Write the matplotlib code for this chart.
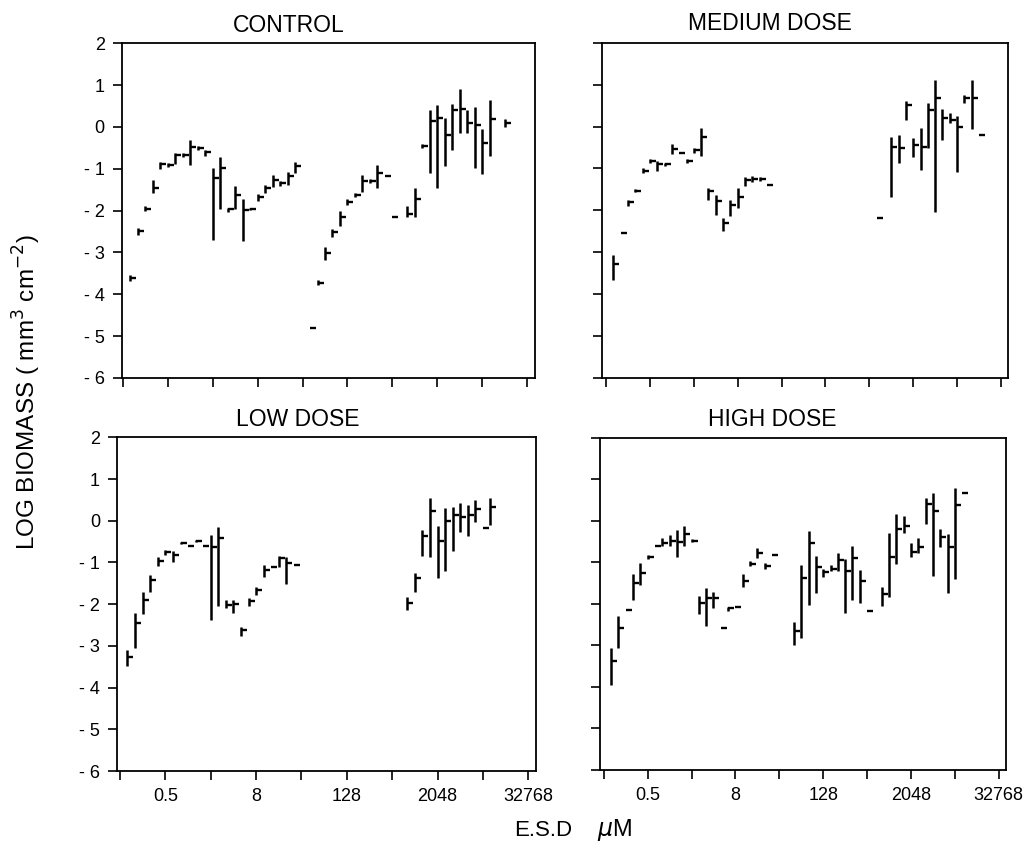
import matplotlib
matplotlib.use("Agg")
import matplotlib.pyplot as plt
from matplotlib.markers import TICKRIGHT

plt.rcParams['font.family'] = ['Liberation Sans', 'DejaVu Sans']

# ESD size classes (um), 1/3 log2 steps, index 0 -> 2^(-8/3)
size_classes = [0.157, 0.198, 0.25, 0.315, 0.397, 0.5, 0.63, 0.794, 1.0, 1.26,
                1.587, 2.0, 2.52, 3.175, 4.0, 5.04, 6.35, 8.0, 10.08, 12.7,
                16.0, 20.16, 25.4, 32.0, 40.3, 50.8, 64.0, 80.6, 101.6, 128.0,
                161.3, 203.2, 256.0, 322.5, 406.4, 512.0, 645.0, 812.7, 1024.0, 1290.0,
                1625.0, 2048.0, 2580.0, 3251.0, 4096.0, 5161.0, 6502.0, 8192.0, 10321.0, 13004.0,
                16384.0]

# ---------------- CONTROL ----------------
control_cls = [0, 1, 2, 3, 4, 5, 6, 7, 8, 9, 10, 11, 12, 13, 14, 15, 16, 17, 18, 19, 20, 21, 22,
               24, 25, 26, 27, 28, 29, 30, 31, 32, 33, 34, 35,
               37, 38, 39, 40, 41, 42, 43, 44, 45, 46, 47, 48, 50]
control_mean = [-3.62, -2.49, -1.95, -1.45, -0.89, -0.90, -0.67, -0.67, -0.47, -0.50, -0.59, -1.23, -0.98,
                -1.97, -1.63, -1.99, -1.96, -1.67, -1.47, -1.27, -1.35, -1.18, -0.93,
                -4.80, -3.72, -3.02, -2.51, -2.15, -1.79, -1.63, -1.29, -1.29, -1.10, -1.16, -2.15,
                -2.07, -1.71, -0.45, 0.15, 0.21, -0.19, 0.40, 0.42, 0.10, 0.05, -0.39, 0.19, 0.10]
control_low = [-3.68, -2.58, -2.01, -1.59, -1.00, -0.95, -0.89, -0.72, -0.91, -0.55, -0.70, -2.69, -1.95,
               -2.04, -1.95, -2.72, -1.98, -1.76, -1.57, -1.43, -1.40, -1.39, -1.10,
               -4.80, -3.78, -3.18, -2.63, -2.37, -1.87, -1.67, -1.55, -1.35, -1.47, -1.16, -2.15,
               -2.16, -2.16, -0.50, -1.11, -1.47, -0.94, -0.54, -0.14, -0.14, -0.99, -1.13, -0.70, 0.00]
control_high = [-3.55, -2.42, -1.90, -1.27, -0.83, -0.85, -0.62, -0.62, -0.30, -0.46, -0.55, -0.99, -0.71,
                -1.93, -1.41, -1.73, -1.94, -1.60, -1.39, -1.15, -1.30, -1.07, -0.83,
                -4.80, -3.66, -2.87, -2.43, -2.00, -1.73, -1.59, -1.15, -1.25, -0.91, -1.16, -2.15,
                -1.89, -1.47, -0.40, 0.40, 0.52, 0.21, 0.56, 0.91, 0.40, 0.48, -0.06, 0.64, 0.20]

# ---------------- MEDIUM DOSE ----------------
medium_cls = [0, 1, 2, 3, 4, 5, 6, 7, 8, 9, 10, 11, 12, 13, 14, 15, 16, 17, 18, 19, 20, 21,
              36, 38, 39, 40, 41, 42, 43, 44, 45, 46, 47, 48, 49, 50]
medium_mean = [-3.28, -2.54, -1.81, -1.53, -1.06, -0.83, -0.90, -0.89, -0.53, -0.62, -0.82, -0.56, -0.26,
               -1.55, -1.77, -2.30, -1.88, -1.67, -1.27, -1.25, -1.25, -1.39,
               -2.19, -0.48, -0.52, 0.51, -0.44, -0.48, 0.39, 0.67, 0.20, 0.16, -0.02, 0.67, 0.67, -0.20]
medium_low = [-3.67, -2.54, -1.90, -1.57, -1.12, -0.88, -1.05, -0.93, -0.65, -0.62, -0.86, -0.63, -0.70,
              -1.76, -2.10, -2.50, -2.13, -1.94, -1.43, -1.32, -1.30, -1.39,
              -2.19, -1.68, -0.88, 0.16, -0.72, -1.04, -0.52, -2.03, -0.32, 0.08, -1.08, 0.55, -0.07, -0.20]
medium_high = [-3.06, -2.54, -1.75, -1.50, -1.00, -0.78, -0.82, -0.86, -0.41, -0.62, -0.77, -0.52, -0.04,
               -1.47, -1.63, -2.18, -1.75, -1.47, -1.21, -1.19, -1.20, -1.39,
               -2.19, -0.24, -0.20, 0.62, -0.28, -0.04, 0.55, 1.11, 0.43, 0.33, 0.25, 0.75, 1.11, -0.20]

# ---------------- LOW DOSE ----------------
low_cls = [0, 1, 2, 3, 4, 5, 6, 7, 8, 9, 10, 11, 12, 13, 14, 15, 16, 17, 18, 19, 20, 21, 22,
           37, 38, 39, 40, 41, 42, 43, 44, 45, 46, 47, 48]
low_mean = [-3.27, -2.46, -1.89, -1.42, -0.97, -0.74, -0.81, -0.53, -0.60, -0.49, -0.60, -0.64, -0.41,
            -2.01, -2.00, -2.62, -1.92, -1.66, -1.17, -1.12, -0.90, -1.02, -1.05,
            -1.98, -1.38, -0.36, 0.23, -0.49, 0.00, 0.14, 0.08, 0.14, 0.27, -0.18, 0.32]
low_low = [-3.49, -3.06, -2.24, -1.70, -1.09, -0.82, -1.00, -0.56, -0.60, -0.52, -0.60, -2.38, -2.05,
           -2.10, -2.22, -2.77, -2.05, -1.78, -1.34, -1.12, -1.12, -1.52, -1.05,
           -2.14, -1.70, -0.85, -0.86, -1.38, -1.20, -0.73, -0.26, -0.37, -0.02, -0.18, -0.10]
low_high = [-3.10, -2.22, -1.70, -1.30, -0.88, -0.69, -0.72, -0.50, -0.60, -0.46, -0.60, -0.34, -0.16,
            -1.90, -1.89, -2.54, -1.86, -1.58, -1.06, -1.12, -0.85, -0.88, -1.05,
            -1.82, -1.25, -0.22, 0.54, -0.13, 0.30, 0.34, 0.43, 0.38, 0.50, -0.18, 0.54]

# ---------------- HIGH DOSE ----------------
high_cls = [0, 1, 2, 3, 4, 5, 6, 7, 8, 9, 10, 11, 12, 13, 14, 15, 16, 17, 18, 19, 20, 21, 22,
            25, 26, 27, 28, 29, 30, 31, 32, 33, 34, 35, 37, 38, 39, 40, 41, 42, 43, 44, 45, 46, 47, 48]
high_mean = [-3.37, -2.57, -2.15, -1.51, -1.25, -0.87, -0.61, -0.54, -0.48, -0.50, -0.32, -0.48,
             -1.99, -1.87, -1.87, -2.57, -2.11, -2.07, -1.44, -1.04, -0.78, -1.09, -0.83,
             -2.65, -1.37, -0.54, -1.11, -1.24, -1.17, -0.94, -1.20, -0.90, -1.44, -2.17,
             -1.76, -0.87, -0.21, -0.12, -0.74, -0.62, 0.40, 0.24, -0.40, -0.62, 0.38, 0.68]
high_low = [-3.95, -3.07, -2.15, -1.91, -1.55, -0.91, -0.61, -0.61, -0.61, -0.88, -0.61, -0.52,
            -2.25, -2.53, -2.11, -2.57, -2.18, -2.07, -1.59, -1.10, -0.90, -1.17, -0.83,
            -2.99, -2.83, -2.03, -1.73, -1.36, -1.22, -1.20, -2.21, -1.91, -1.97, -2.17,
            -2.05, -1.83, -1.04, -0.30, -0.88, -0.77, -0.08, -1.33, -0.64, -1.73, -1.41, 0.68]
high_high = [-3.07, -2.29, -2.15, -1.28, -1.01, -0.83, -0.61, -0.42, -0.34, -0.22, -0.13, -0.44,
             -1.81, -1.63, -1.71, -2.57, -2.07, -2.07, -1.28, -0.98, -0.66, -1.01, -0.83,
             -2.43, -1.07, -0.24, -0.85, -1.15, -1.07, -0.78, -0.93, -0.61, -1.19, -2.17,
             -1.60, -0.30, 0.16, 0.11, -0.53, -0.42, 0.56, 0.68, -0.21, -0.32, 0.78, 0.68]

titles = ["CONTROL", "MEDIUM DOSE", "LOW DOSE", "HIGH DOSE"]
x_ticks = [0.125, 0.5, 2, 8, 32, 128, 512, 2048, 8192, 32768]
x_tick_labels = ["", "0.5", "", "8", "", "128", "", "2048", "", "32768"]
y_ticks = [-6, -5, -4, -3, -2, -1, 0, 1, 2]
y_tick_labels = ["- 6", "- 5", "- 4", "- 3", "- 2", "- 1", "0", "1", "2"]

W, H = 1029, 844
fig = plt.figure(figsize=(W / 100, H / 100), dpi=100)

# panel boxes in pixels: left, right, top, bottom ; x-limits in log2 units
panels = [
    dict(box=(122, 535, 43.3, 378), xl=(-3.04, 15.35), data=(control_cls, control_mean, control_low, control_high),
         ylab=True, xlab=False, title_xy=(289, 25)),
    dict(box=(601.7, 1008, 42.7, 378), xl=(-3.2, 15.32), data=(medium_cls, medium_mean, medium_low, medium_high),
         ylab=False, xlab=False, title_xy=(770, 24)),
    dict(box=(117.3, 535.5, 437.3, 771), xl=(-3.12, 15.32), data=(low_cls, low_mean, low_low, low_high),
         ylab=True, xlab=True, title_xy=(298, 419)),
    dict(box=(600, 1006, 437.7, 770), xl=(-3.17, 15.33), data=(high_cls, high_mean, high_low, high_high),
         ylab=False, xlab=True, title_xy=(772, 419)),
]

for p, title in zip(panels, titles):
    l, r, t, b = p['box']
    ax = fig.add_axes([l / W, 1 - b / H, (r - l) / W, (b - t) / H])
    ax.set_xscale('log', base=2)
    ax.set_xlim(2 ** p['xl'][0], 2 ** p['xl'][1])
    ax.set_ylim(-6, 2)
    cls, mean, lo, hi = p['data']
    xs = [size_classes[i] for i in cls]
    ax.vlines(xs, lo, hi, colors='black', linewidth=1.8)
    ax.plot(xs, mean, linestyle='none', marker=TICKRIGHT, markersize=4.0,
            markeredgewidth=1.7, color='black')
    ax.set_xticks(x_ticks)
    ax.minorticks_off()
    if p['xlab']:
        ax.set_xticklabels(x_tick_labels)
    else:
        ax.set_xticklabels([])
    ax.set_yticks(y_ticks)
    if p['ylab']:
        ax.set_yticklabels(y_tick_labels)
    else:
        ax.set_yticklabels([])
    ax.tick_params(direction='out', length=6.5, width=1.2, labelsize=13, pad=6, colors='black')
    for s in ax.spines.values():
        s.set_linewidth(1.3)
    fig.text(p['title_xy'][0] / W, 1 - p['title_xy'][1] / H, title, ha='center', va='center',
             fontsize=16.5)

fig.text(27 / W, 1 - 392 / H, r"LOG BIOMASS ( mm$^3$ cm$^{-2}$)", rotation=90,
         ha='center', va='center', fontsize=17.5)
fig.text(572 / W, 1 - 830 / H, "E.S.D", ha='right', va='center', fontsize=16)
fig.text(597 / W, 1 - 830 / H, r"$\mu$M", ha='left', va='center', fontsize=17)

fig.savefig("out.png", dpi=100)
